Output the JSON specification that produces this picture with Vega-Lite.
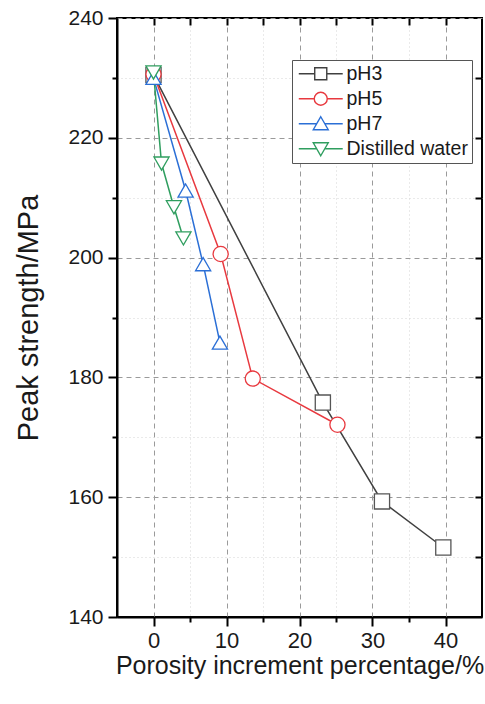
{
  "$schema": "https://vega.github.io/schema/vega-lite/v6.json",
  "width": 365,
  "height": 599,
  "autosize": "none",
  "padding": {"left": 117, "top": 18, "right": 3, "bottom": 87},
  "background": "white",
  "config": {
    "view": {"stroke": "#000", "strokeWidth": 2},
    "font": "Liberation Sans",
    "axis": {
      "domainColor": "#000",
      "domainWidth": 2,
      "tickColor": "#000",
      "tickWidth": 2,
      "labelColor": "#1a1a1a",
      "titleColor": "#1a1a1a",
      "labelFont": "Liberation Sans",
      "titleFont": "Liberation Sans",
      "titleFontWeight": "normal",
      "labelOverlap": false
    }
  },
  "data": {
    "values": [
      {"series": "pH3", "x": 0, "y": 230.5},
      {"series": "pH3", "x": 23.2, "y": 175.8},
      {"series": "pH3", "x": 31.3, "y": 159.3},
      {"series": "pH3", "x": 39.7, "y": 151.6},
      {"series": "pH5", "x": 0, "y": 230.6},
      {"series": "pH5", "x": 9.2, "y": 200.6},
      {"series": "pH5", "x": 13.6, "y": 179.8},
      {"series": "pH5", "x": 25.2, "y": 172.1},
      {"series": "pH7", "x": 0, "y": 230.0},
      {"series": "pH7", "x": 4.4, "y": 211.2},
      {"series": "pH7", "x": 6.8, "y": 198.9},
      {"series": "pH7", "x": 9.1, "y": 185.8},
      {"series": "Distilled water", "x": 0, "y": 230.9},
      {"series": "Distilled water", "x": 1.1, "y": 215.7},
      {"series": "Distilled water", "x": 2.8, "y": 208.4},
      {"series": "Distilled water", "x": 4.1, "y": 203.2}
    ]
  },
  "layer": [
    {
      "mark": {"type": "line", "strokeWidth": 1.5},
      "encoding": {
        "x": {
          "field": "x", "type": "quantitative",
          "scale": {"domain": [-5, 45], "nice": false, "zero": false},
          "axis": {"orient": "top", "values": [0, 5, 10, 15, 20, 25, 30, 35, 40], "labels": false, "grid": false, "domain": false, "offset": -7, "tickSize": 7, "title": null}
        },
        "y": {
          "field": "y", "type": "quantitative",
          "scale": {"domain": [140, 240], "nice": false, "zero": false},
          "axis": {"orient": "right", "values": [150, 160, 170, 180, 190, 200, 210, 220, 230], "labels": false, "grid": false, "domain": false, "offset": -7, "tickSize": 7, "title": null}
        },
        "color": {
          "field": "series", "type": "nominal",
          "scale": {"domain": ["pH3", "pH5", "pH7", "Distilled water"], "range": ["#404040", "#e8393f", "#2b6fd6", "#2f9e5f"]},
          "legend": null
        }
      }
    },
    {
      "mark": {"type": "point", "filled": false, "fill": "white", "fillOpacity": 1, "strokeWidth": 1.3, "opacity": 1},
      "encoding": {
        "x": {
          "field": "x", "type": "quantitative",
          "axis": {
            "orient": "bottom",
            "values": [0, 5, 10, 15, 20, 25, 30, 35, 40],
            "labelExpr": "datum.value % 10 === 0 ? datum.label : ''",
            "grid": true,
            "gridDash": {"condition": {"test": "datum.value % 10 === 0", "value": [5, 4]}, "value": [1, 3]},
            "gridColor": {"condition": {"test": "datum.value % 10 === 0", "value": "#9a9a9a"}, "value": "#d4d4d4"},
            "tickSize": {"condition": {"test": "datum.value % 10 === 0", "value": 9}, "value": 5},
            "labelFontSize": 22,
            "labelPadding": 4,
            "title": "Porosity increment percentage/%",
            "titleFontSize": 25,
            "titlePadding": 2
          }
        },
        "y": {
          "field": "y", "type": "quantitative",
          "axis": {
            "orient": "left",
            "values": [140, 150, 160, 170, 180, 190, 200, 210, 220, 230, 240],
            "labelExpr": "datum.value % 20 === 0 ? datum.label : ''",
            "grid": true,
            "gridDash": {"condition": {"test": "datum.value % 20 === 0", "value": [5, 4]}, "value": [1, 3]},
            "gridColor": {"condition": {"test": "datum.value % 20 === 0", "value": "#9a9a9a"}, "value": "#d4d4d4"},
            "tickSize": {"condition": {"test": "datum.value % 20 === 0", "value": 9}, "value": 5},
            "labelFontSize": 21,
            "labelPadding": 5,
            "title": "Peak strength/MPa",
            "titleFontSize": 29,
            "titlePadding": 24
          }
        },
        "color": {
          "field": "series", "type": "nominal",
          "scale": {"domain": ["pH3", "pH5", "pH7", "Distilled water"], "range": ["#555555", "#e8393f", "#2b6fd6", "#2f9e5f"]},
          "legend": null
        },
        "shape": {
          "field": "series", "type": "nominal",
          "scale": {"domain": ["pH3", "pH5", "pH7", "Distilled water"], "range": ["square", "circle", "triangle-up", "triangle-down"]},
          "legend": null
        },
        "size": {
          "field": "series", "type": "nominal",
          "scale": {"domain": ["Distilled water", "pH7", "pH5", "pH3"], "range": [230, 230, 169, 144]},
          "legend": null
        }
      }
    },
    {
      "mark": {"type": "point", "filled": false, "strokeOpacity": 0, "fillOpacity": 0, "size": 1},
      "encoding": {
        "x": {"field": "x", "type": "quantitative", "axis": null},
        "y": {"field": "y", "type": "quantitative", "axis": null},
        "color": {
          "field": "series", "type": "nominal",
          "scale": {"domain": ["pH3", "pH5", "pH7", "Distilled water"], "range": ["#404040", "#e8393f", "#2b6fd6", "#2f9e5f"]},
          "legend": {
            "title": null, "orient": "none", "legendX": 175, "legendY": 42,
            "labelFontSize": 19.5, "labelFont": "Liberation Sans", "labelColor": "#1a1a1a",
            "strokeColor": "#555", "fillColor": "white", "padding": 4,
            "symbolSize": 196, "symbolStrokeWidth": 1.4, "symbolOffset": 15, "labelOffset": 16, "rowPadding": 4,
            "encode": {"symbols": {
              "strokeOpacity": {"value": 1},
              "fill": {"value": "white"},
              "fillOpacity": {"value": 1},
              "opacity": {"value": 1},
              "strokeWidth": {"value": 1.4}
            }}
          }
        },
        "shape": {
          "field": "series", "type": "nominal",
          "scale": {
            "domain": ["pH3", "pH5", "pH7", "Distilled water"],
            "range": [
              "M-3.14,0H-0.86M0.86,0H3.14M-0.86,-0.86H0.86V0.86H-0.86Z",
              "M-3.14,0H-0.93M0.93,0H3.14M0.93,0A0.93,0.93,0,1,1,-0.93,0A0.93,0.93,0,1,1,0.93,0Z",
              "M-3.14,0H-0.58M0.58,0H3.14M0,-1L1.07,0.86L-1.07,0.86Z",
              "M-3.14,0H-0.58M0.58,0H3.14M0,1L1.07,-0.86L-1.07,-0.86Z"
            ]
          },
          "legend": {
            "title": null, "orient": "none", "legendX": 175, "legendY": 42,
            "labelFontSize": 19.5, "labelFont": "Liberation Sans", "labelColor": "#1a1a1a",
            "strokeColor": "#555", "fillColor": "white", "padding": 4,
            "symbolSize": 196, "symbolStrokeWidth": 1.4, "symbolOffset": 15, "labelOffset": 16, "rowPadding": 4,
            "encode": {"symbols": {
              "strokeOpacity": {"value": 1},
              "fill": {"value": "white"},
              "fillOpacity": {"value": 1},
              "opacity": {"value": 1},
              "strokeWidth": {"value": 1.4}
            }}
          }
        }
      }
    }
  ],
  "resolve": {
    "axis": {"x": "independent", "y": "independent"},
    "scale": {"shape": "independent", "color": "independent"}
  }
}
